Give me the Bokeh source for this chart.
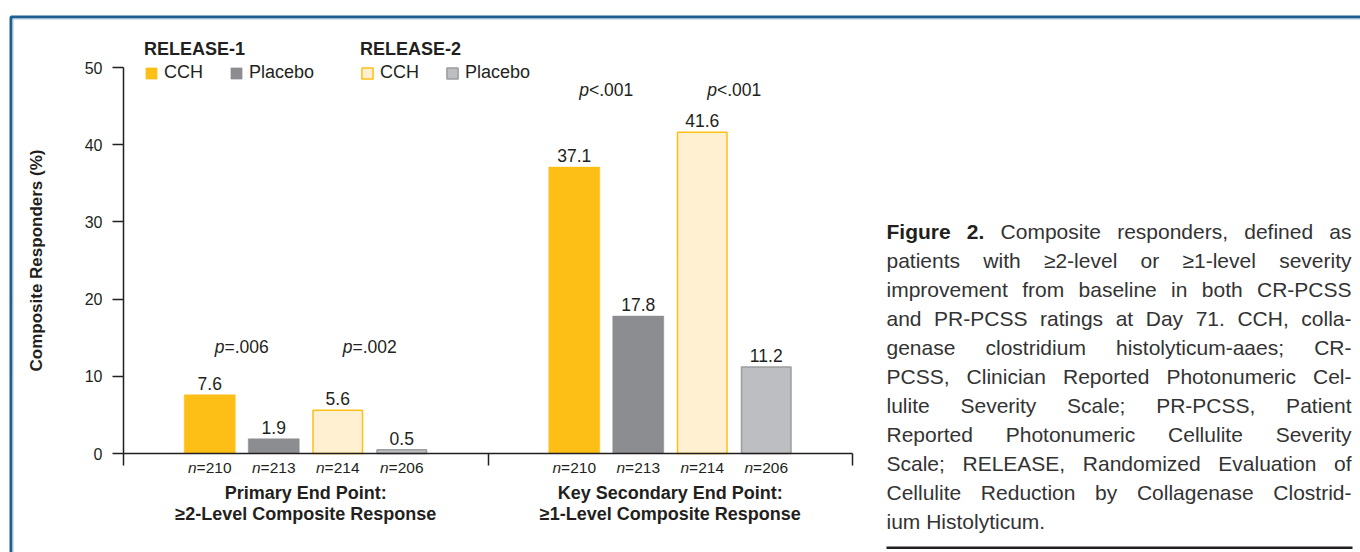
import os, glob
from bokeh.plotting import figure
from bokeh.models import Range1d, FixedTicker, Legend, LegendItem, BoxAnnotation, ColumnDataSource
from bokeh.core.properties import value
from bokeh.embed import file_html
from bokeh.resources import INLINE

# ---------------- data ----------------
groups = ["Primary End Point", "Key Secondary End Point"]
group_title_1 = ["Primary End Point:", "Key Secondary End Point:"]
group_title_2 = ["\u22652-Level Composite Response", "\u22651-Level Composite Response"]
legend_titles = ["RELEASE-1", "RELEASE-2"]
legend_labels = ["CCH", "Placebo"]
r1_cch = [7.6, 37.1]
r1_placebo = [1.9, 17.8]
r2_cch = [5.6, 41.6]
r2_placebo = [0.5, 11.2]
r1_cch_n = [210, 210]
r1_placebo_n = [213, 213]
r2_cch_n = [214, 214]
r2_placebo_n = [206, 206]
p_release1 = ["=.006", "<.001"]
p_release2 = ["=.002", "<.001"]
y_ticks = [0, 10, 20, 30, 40, 50]
y_label = "Composite Responders (%)"
caption_bold = "Figure 2."
caption_lines = [
    "Figure 2. Composite responders, defined as",
    "patients with \u22652-level or \u22651-level severity",
    "improvement from baseline in both CR-PCSS",
    "and PR-PCSS ratings at Day 71. CCH, colla-",
    "genase clostridium histolyticum-aaes; CR-",
    "PCSS, Clinician Reported Photonumeric Cel-",
    "lulite Severity Scale; PR-PCSS, Patient",
    "Reported Photonumeric Cellulite Severity",
    "Scale; RELEASE, Randomized Evaluation of",
    "Cellulite Reduction by Collagenase Clostrid-",
    "ium Histolyticum.",
]

# ---------------- layout helpers ----------------
W, H = 1360, 552
OFF = 0
AX_X0, AX_X2 = 123, 852
AX_Y0, AX_Y50 = 453, 67
XS = (AX_X2 - AX_X0) / 2.0
YS = (AX_Y0 - AX_Y50) / 50.0


def X(px):
    return (px - AX_X0) / XS


def Y(py):
    return (AX_Y0 - py) / YS


FONT = "Liberation Sans"
TXT = "#231f20"


def find_font(name):
    for d in ["/usr/share/fonts", "/usr/local/share/fonts", os.path.expanduser("~/.fonts")]:
        hits = glob.glob(os.path.join(d, "**", name), recursive=True)
        if hits:
            return hits[0]
    return None


try:
    from PIL import ImageFont
except Exception:
    ImageFont = None

_cache = {}


def measure(fname, size, s):
    if fname not in _cache:
        path = find_font(fname)
        f = None
        if ImageFont is not None and path:
            try:
                f = ImageFont.truetype(path, 100)
            except Exception:
                f = None
        _cache[fname] = f
    f = _cache[fname]
    if f is None:
        return len(s) * size * 0.53
    return f.getlength(s) * size / 100.0


REG = "LiberationSans-Regular.ttf"
BOLD = "LiberationSans-Bold.ttf"
ITAL = "LiberationSans-Italic.ttf"

p = figure(width=W, height=H,
           x_range=Range1d(X(OFF), X(OFF + W)),
           y_range=Range1d(Y(OFF + H), Y(OFF)),
           output_backend="svg", toolbar_location=None,
           min_border=0, min_border_left=0, min_border_right=0,
           min_border_top=0, min_border_bottom=0)
p.background_fill_color = "white"
p.border_fill_color = "white"
p.outline_line_color = None
p.grid.visible = False

# axes
p.yaxis.fixed_location = 0
p.xaxis.fixed_location = 0
p.yaxis.bounds = (0, 50)
p.yaxis.ticker = FixedTicker(ticks=y_ticks)
p.yaxis.minor_tick_line_color = None
p.yaxis.major_tick_in = 0
p.yaxis.major_tick_out = 11
p.yaxis.major_tick_line_width = 1.5
p.yaxis.axis_line_width = 1.5
p.yaxis.axis_line_color = TXT
p.yaxis.major_tick_line_color = TXT
p.yaxis.major_label_text_font = FONT
p.yaxis.major_label_text_font_size = "16px"
p.yaxis.major_label_text_color = TXT
p.yaxis.major_label_standoff = 10
p.yaxis.axis_label = y_label
p.yaxis.axis_label_text_font = FONT
p.yaxis.axis_label_text_font_size = "17px"
p.yaxis.axis_label_text_font_style = "bold"
p.yaxis.axis_label_text_color = TXT
p.yaxis.axis_label_standoff = 36

p.xaxis.bounds = (0, 2)
p.xaxis.ticker = FixedTicker(ticks=[0, 1, 2])
p.xaxis.major_label_overrides = {0: "", 1: "", 2: ""}
p.xaxis.major_label_text_font_size = "1px"
p.xaxis.minor_tick_line_color = None
p.xaxis.major_tick_in = 0
p.xaxis.major_tick_out = 12
p.xaxis.major_tick_line_width = 1.5
p.xaxis.axis_line_width = 1.5
p.xaxis.axis_line_color = TXT
p.xaxis.major_tick_line_color = TXT

# bars
SLOT = 64 / XS
BAR_W = 51 / XS
offs = [-1.5 * SLOT, -0.5 * SLOT, 0.5 * SLOT, 1.5 * SLOT]
series = [
    (r1_cch, r1_cch_n, "#fdbf16", None, 0),
    (r1_placebo, r1_placebo_n, "#8c8d91", None, 0),
    (r2_cch, r2_cch_n, "#fff0d2", "#fdbf16", 1.5),
    (r2_placebo, r2_placebo_n, "#bdbec1", "#9c9d9f", 1.5),
]
renderers = []
VAL_FS = 17.5
N_FS = 15.5
for i, (vals, ns, fill, line, lw) in enumerate(series):
    xs = [g + 0.5 + offs[i] for g in range(len(groups))]
    src = ColumnDataSource(dict(x=xs, top=vals, label=["%.1f" % v for v in vals]))
    if line is None:
        r = p.vbar(x="x", top="top", bottom=0, width=BAR_W, source=src,
                   fill_color=fill, line_color=fill, line_width=0.5)
    else:
        r = p.vbar(x="x", top="top", bottom=0, width=BAR_W - lw / XS, source=src,
                   fill_color=fill, line_color=line, line_width=lw)
    renderers.append(r)
    p.text(x="x", y="top", text="label", source=src, y_offset=-5,
           text_align="center", text_baseline="bottom",
           text_font=value(FONT), text_font_size="%.1fpx" % VAL_FS, text_color=TXT)
    # n labels: italic n + regular rest
    rest = ["=%d" % n for n in ns]
    xo = []
    for t in rest:
        wn = measure(ITAL, N_FS, "n")
        wr = measure(REG, N_FS, t)
        xo.append(-(wn + wr) / 2.0 + wn)
    nsrc = ColumnDataSource(dict(x=xs, y=[0] * len(xs), n=["n"] * len(xs), rest=rest, xo=xo))
    p.text(x="x", y="y", text="n", source=nsrc, x_offset="xo", y_offset=14,
           text_align="right", text_baseline="middle", text_font_style="italic",
           text_font=value(FONT), text_font_size="%.1fpx" % N_FS, text_color=TXT)
    p.text(x="x", y="y", text="rest", source=nsrc, x_offset="xo", y_offset=14,
           text_align="left", text_baseline="middle",
           text_font=value(FONT), text_font_size="%.1fpx" % N_FS, text_color=TXT)

# p values
P_FS = 17.5
p_row_y = [Y(346), Y(89)]
px, py, prest, pxo = [], [], [], []
for g in range(len(groups)):
    for k, pv in enumerate([p_release1[g], p_release2[g]]):
        cx = g + 0.5 + (offs[2 * k] + offs[2 * k + 1]) / 2.0
        wp = measure(ITAL, P_FS, "p")
        wr = measure(REG, P_FS, pv)
        px.append(cx)
        py.append(p_row_y[g])
        prest.append(pv)
        pxo.append(-(wp + wr) / 2.0 + wp)
psrc = ColumnDataSource(dict(x=px, y=py, p=["p"] * len(px), rest=prest, xo=pxo))
p.text(x="x", y="y", text="p", source=psrc, x_offset="xo", text_align="right",
       text_baseline="middle", text_font_style="italic", text_font=value(FONT),
       text_font_size="%.1fpx" % P_FS, text_color=TXT)
p.text(x="x", y="y", text="rest", source=psrc, x_offset="xo", text_align="left",
       text_baseline="middle", text_font=value(FONT),
       text_font_size="%.1fpx" % P_FS, text_color=TXT)

# group titles
gsrc = ColumnDataSource(dict(x=[g + 0.5 for g in range(len(groups))], y=[0] * len(groups),
                             t1=group_title_1, t2=group_title_2))
for col, yo in (("t1", 39), ("t2", 60)):
    p.text(x="x", y="y", text=col, source=gsrc, y_offset=yo, text_align="center",
           text_baseline="middle", text_font_style="bold", text_font=value(FONT),
           text_font_size="18px", text_color=TXT)

# legends
leg_locs = [(144, H - 83), (360, H - 83)]
for k in range(2):
    leg = Legend(items=[LegendItem(label=legend_labels[0], renderers=[renderers[2 * k]]),
                        LegendItem(label=legend_labels[1], renderers=[renderers[2 * k + 1]])],
                 title=legend_titles[k], orientation="horizontal", location=leg_locs[k])
    leg.title_text_font = FONT
    leg.title_text_font_size = "18px"
    leg.title_text_font_style = "bold"
    leg.title_text_color = TXT
    leg.title_standoff = 2
    leg.label_text_font = FONT
    leg.label_text_font_size = "18px"
    leg.label_text_color = TXT
    leg.glyph_width = 14
    leg.glyph_height = 14
    leg.label_standoff = 6
    leg.spacing = 26
    leg.padding = 0
    leg.margin = 0
    leg.border_line_alpha = 0
    leg.background_fill_alpha = 0
    p.add_layout(leg)

# caption (justified)
CAP_FS = 21
CAP_L, CAP_R = 886, 1351
cap_x, cap_y, cap_t, cap_bold_x, cap_bold_y, cap_bold_t = [], [], [], [], [], []
for li, line in enumerate(caption_lines):
    words = line.split(" ")
    bold_n = len(caption_bold.split(" ")) if li == 0 else 0
    widths = [measure(BOLD if wi < bold_n else REG, CAP_FS, w) for wi, w in enumerate(words)]
    space = measure(REG, CAP_FS, " ")
    if li == len(caption_lines) - 1 or len(words) == 1:
        gap = space
    else:
        gap = max((CAP_R - CAP_L - sum(widths)) / (len(words) - 1), 0.6 * space)
    xcur = CAP_L
    yline = Y(231 + 29 * li)
    for wi, w in enumerate(words):
        if wi < bold_n:
            cap_bold_x.append(X(xcur)); cap_bold_y.append(yline); cap_bold_t.append(w)
        else:
            cap_x.append(X(xcur)); cap_y.append(yline); cap_t.append(w)
        xcur += widths[wi] + gap
p.text(x=cap_x, y=cap_y, text=cap_t, text_align="left", text_baseline="middle",
       text_font=value(FONT), text_font_size="%dpx" % CAP_FS, text_color="#333333")
p.text(x=cap_bold_x, y=cap_bold_y, text=cap_bold_t, text_align="left", text_baseline="middle",
       text_font=value(FONT), text_font_size="%dpx" % CAP_FS, text_font_style="bold",
       text_color=TXT)

# decorations: blue frame and caption rule
p.add_layout(BoxAnnotation(left=X(10.5), right=X(5000), top=Y(16.5), bottom=Y(5000),
                           fill_alpha=0, line_color="#1d5f8e", line_alpha=1, line_width=3))
p.add_layout(BoxAnnotation(left=X(12.5), right=X(5000), top=Y(18.5), bottom=Y(5000),
                           fill_alpha=0, line_color="#a8c6dc", line_alpha=1, line_width=1))
p.add_layout(BoxAnnotation(left=X(CAP_L), right=X(CAP_R + 1), top=Y(546), bottom=Y(548.5),
                           fill_color=TXT, fill_alpha=1, line_alpha=0))

open("out.html", "w").write(file_html(p, INLINE))
